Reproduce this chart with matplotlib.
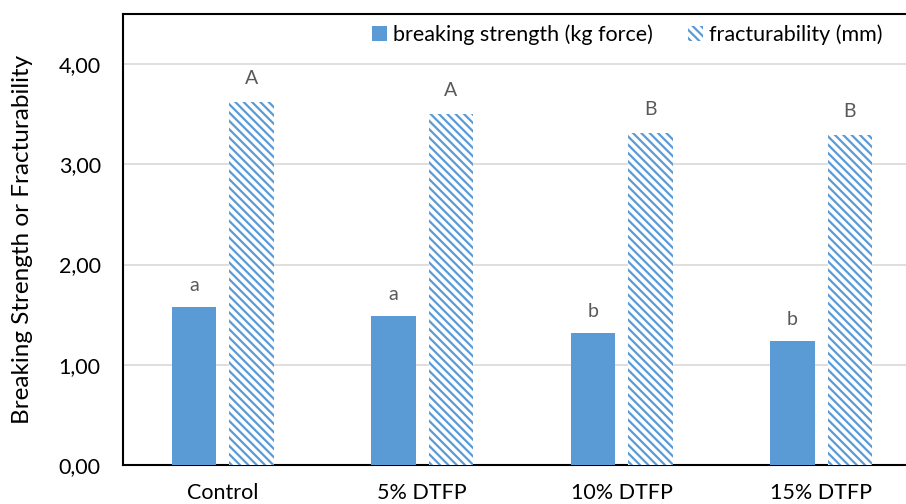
import matplotlib
matplotlib.use("Agg")
import matplotlib.pyplot as plt
from matplotlib.patches import Patch
import numpy as np

categories = ["Control", "5% DTFP", "10% DTFP", "15% DTFP"]
breaking = [1.58, 1.49, 1.32, 1.24]
fractur = [3.62, 3.50, 3.31, 3.29]
letters_b = ["a", "a", "b", "b"]
letters_f = ["A", "A", "B", "B"]
yticks = [0, 1, 2, 3, 4]

blue = "#5B9BD5"
plt.rcParams["font.family"] = ["Lato", "DejaVu Sans"]
plt.rcParams["hatch.linewidth"] = 1.6

fig = plt.figure(figsize=(9.06, 5.04), dpi=100)
ax = fig.add_axes([123 / 906, 39 / 504, 798 / 906, 451 / 504])

x = np.arange(len(categories))
w = 0.225
off = 0.144
ax.bar(x - off, breaking, w, color=blue, zorder=3)
ax.bar(x + off, fractur, w, facecolor="white", edgecolor=blue, linewidth=0,
       hatch="\\\\\\\\", zorder=3)

for i in range(len(categories)):
    ax.annotate(letters_b[i], (x[i] - off, breaking[i]), xytext=(0, 9),
                textcoords="offset points", ha="center", va="bottom",
                fontsize=14, color="#595959")
    ax.annotate(letters_f[i], (x[i] + off, fractur[i]), xytext=(0, 11),
                textcoords="offset points", ha="center", va="bottom",
                fontsize=14, color="#595959")

ax.set_xlim(-0.5, 3.5)
ax.set_ylim(0, 4.5)
ax.set_xticks(x)
ax.set_xticklabels(categories, fontsize=15.5)
ax.set_yticks(yticks)
ax.set_yticklabels(["{:.2f}".format(v).replace(".", ",") for v in yticks], fontsize=15.5)
ax.tick_params(length=0)
ax.tick_params(axis="x", pad=13)
ax.tick_params(axis="y", pad=16)
ax.yaxis.grid(True, color="#D9D9D9", linewidth=1.2, zorder=0)
ax.set_axisbelow(True)
for s in ax.spines.values():
    s.set_color("black")
    s.set_linewidth(1.5)

ax.set_ylabel("Breaking Strength or Fracturability", fontsize=17.5)
ax.yaxis.set_label_coords(-90 / 798, 0.5)

handles = [Patch(facecolor=blue, edgecolor=blue, linewidth=0),
           Patch(facecolor="white", edgecolor=blue, linewidth=0, hatch="\\\\\\\\")]
fig.legend(handles, ["breaking strength (kg force)", "fracturability (mm)"],
           loc="center right", bbox_to_anchor=(902 / 906, 1 - 35 / 504), ncol=2,
           frameon=False, fontsize=15.5, handlelength=0.7, handleheight=0.7,
           handletextpad=0.3, columnspacing=1.6)

fig.savefig("out.png", dpi=100)
